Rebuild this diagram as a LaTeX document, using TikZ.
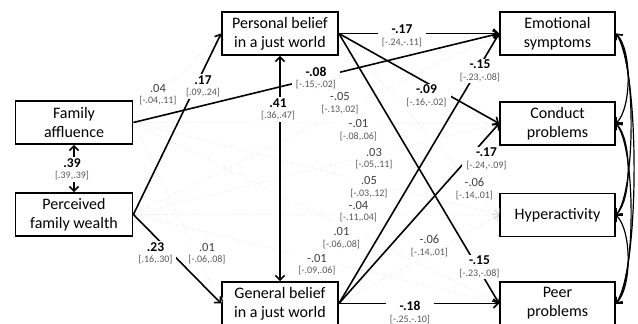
\documentclass[tikz,border=0pt]{standalone}
\usepackage{fontspec}
\setmainfont{Carlito}
\usetikzlibrary{arrows.meta}
\definecolor{nsgray}{HTML}{404040}
\definecolor{cigray}{HTML}{595959}
\newcommand\sgc[2]{{\color{black}\bfseries\fontsize{13.5}{11.5}\selectfont #1}\\{}#2}
\newcommand\nsc[2]{{\color{nsgray}\fontsize{12.5}{11.5}\selectfont #1}\\{}#2}
\begin{document}
\begin{tikzpicture}[x=1pt,y=-1pt,
  >={Straight Barb[length=4.5pt,width=9pt]},
  box/.style={draw,line width=1.8pt,fill=white,minimum width=117pt,minimum height=43pt,inner sep=0pt,align=center,font=\fontsize{16}{19}\selectfont},
  sigp/.style={line width=1.6pt,->},
  nsp/.style={draw=black!15,line width=0.6pt,dotted,->},
  dbl/.style={line width=1.6pt,<->},
  cov/.style={line width=1.2pt,<->},
  lab/.style={fill=white,align=center,inner xsep=4pt,inner ysep=1.5pt,text=cigray,font=\fontsize{10}{11.5}\selectfont}
]
\useasboundingbox (0,0) rectangle (638,324);
% boxes
\node[box] (fam) at (74,122.5) {Family\\affluence};
\node[box] (pfw) at (74,214.5) {Perceived\\family wealth};
\node[box,minimum width=116pt] (pbjw) at (280,33.5) {Personal belief\\in a just world};
\node[box,minimum width=116pt] (gbjw) at (280,303.5) {General belief\\in a just world};
\node[box,minimum width=115pt] (emo) at (557.5,33.5) {Emotional\\symptoms};
\node[box,minimum width=115pt] (cond) at (557.5,123.5) {Conduct\\problems};
\node[box,minimum width=115pt] (hyp) at (557.5,215) {Hyperactivity};
\node[box,minimum width=115pt] (peer) at (557.5,303.5) {Peer\\problems};
% non-significant paths
\draw[nsp] (fam.east) -- (pbjw.west);
\draw[nsp] (fam.east) -- (gbjw.west);
\draw[nsp] (fam.east) -- (cond.west);
\draw[nsp] (fam.east) -- (hyp.west);
\draw[nsp] (fam.east) -- (peer.west);
\draw[nsp] (pfw.east) -- (emo.west);
\draw[nsp] (pfw.east) -- (cond.west);
\draw[nsp] (pfw.east) -- (hyp.west);
\draw[nsp] (pfw.east) -- (peer.west);
\draw[nsp] (pbjw.east) -- (hyp.west);
\draw[nsp] (gbjw.east) -- (hyp.west);
% significant paths
\draw[sigp] (pfw.east) -- (pbjw.west);
\draw[sigp] (pfw.east) -- (gbjw.west);
\draw[sigp] (fam.east) -- (emo.west);
\draw[sigp] (pbjw.east) -- (emo.west);
\draw[sigp] (pbjw.east) -- (cond.west);
\draw[sigp] (pbjw.east) -- (peer.west);
\draw[sigp] (gbjw.east) -- (emo.west);
\draw[sigp] (gbjw.east) -- (cond.west);
\draw[sigp] (gbjw.east) -- (peer.west);
\draw[dbl] (pbjw.south) -- (gbjw.north);
\draw[dbl] (fam.south) -- (pfw.north);
% covariances
\draw[cov] (emo.east) .. controls +(16,16) and +(16,-16) .. (cond.east);
\draw[cov] (cond.east) .. controls +(16,16) and +(16,-16) .. (hyp.east);
\draw[cov] (hyp.east) .. controls +(16,16) and +(16,-16) .. (peer.east);
\draw[cov] (emo.east) .. controls +(20,25) and +(20,-25) .. (hyp.east);
\draw[cov] (cond.east) .. controls +(20,25) and +(20,-25) .. (peer.east);
\draw[cov] (emo.east) .. controls +(24,35) and +(24,-35) .. (peer.east);
% labels
\node[lab] (l1) at (158,94.5) {\nsc{.04}{[-.04,.11]}};
\node[lab] (l2) at (203,86.5) {\sgc{.17}{[.09,.24]}};
\node[lab] (l3) at (316,78) {\sgc{-.08}{[-.15,-.02]}};
\node[lab] (l4) at (278,109.5) {\sgc{.41}{[.36,.47]}};
\node[lab] (l5) at (340,103) {\nsc{-.05}{[-.13,.02]}};
\node[lab] (l6) at (358.5,130) {\nsc{-.01}{[-.08,.06]}};
\node[lab] (l7) at (374,158.5) {\nsc{.03}{[-.05,.11]}};
\node[lab] (l8) at (369,187) {\nsc{.05}{[-.03,.12]}};
\node[lab] (l9) at (358.5,211.5) {\nsc{-.04}{[-.11,.04]}};
\node[lab] (l10) at (341.5,238) {\nsc{.01}{[-.06,.08]}};
\node[lab] (l11) at (317,264.5) {\nsc{-.01}{[-.09,.06]}};
\node[lab] (l12) at (155.5,253.5) {\sgc{.23}{[.16,.30]}};
\node[lab] (l13) at (207,253.5) {\nsc{.01}{[-.06,.08]}};
\node[lab] (l14) at (72,169.5) {\sgc{.39}{[.39,.39]}};
\node[lab] (l15) at (402,36) {\sgc{-.17}{[-.24,-.11]}};
\node[lab] (l16) at (480,71) {\sgc{-.15}{[-.23,-.08]}};
\node[lab] (l17) at (426.5,96) {\sgc{-.09}{[-.16,-.02]}};
\node[lab] (l18) at (486.5,159) {\sgc{-.17}{[-.24,-.09]}};
\node[lab] (l19) at (474.5,189) {\nsc{-.06}{[-.14,.01]}};
\node[lab] (l20) at (429.5,246) {\nsc{-.06}{[-.14,.01]}};
\node[lab] (l21) at (479.5,267) {\sgc{-.15}{[-.23,-.08]}};
\node[lab] (l22) at (410,312.5) {\sgc{-.18}{[-.25,-.10]}};
\end{tikzpicture}
\end{document}
